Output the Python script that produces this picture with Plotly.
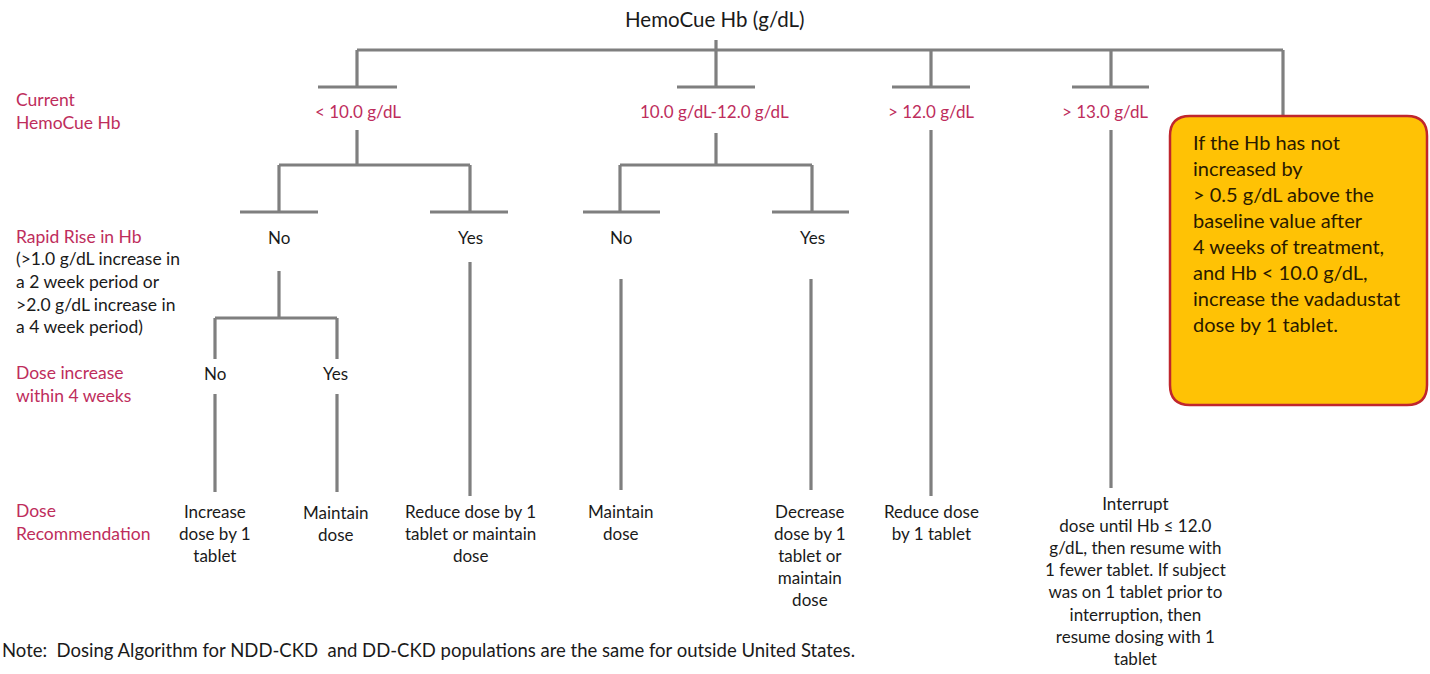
import plotly.graph_objects as go

# ---------------- data ----------------
TITLE = "HemoCue Hb (g/dL)"
TITLE_POS = (715, 20)

# tree line segments (x0, y0, x1, y1) in picture units
SEG_X0 = [716, 357, 357, 716, 931, 1111, 1283,
          318, 677, 892, 1072,
          357, 716, 279, 620,
          279, 470, 620, 812,
          240, 430, 583, 772,
          279, 215, 215, 337,
          215, 337, 470, 621, 811, 931, 1111]
SEG_Y0 = [40, 50, 50, 50, 50, 50, 50,
          87, 87, 87, 87,
          130, 133, 165, 165,
          165, 165, 165, 165,
          212, 212, 212, 212,
          271, 318, 318, 318,
          394, 394, 262, 279, 279, 130, 130]
SEG_X1 = [716, 1283, 357, 716, 931, 1111, 1283,
          397, 755, 970, 1149,
          357, 716, 470, 812,
          279, 470, 620, 812,
          318, 508, 660, 849,
          279, 337, 215, 337,
          215, 337, 470, 621, 811, 931, 1111]
SEG_Y1 = [50, 50, 87, 87, 87, 87, 116,
          87, 87, 87, 87,
          165, 165, 165, 165,
          212, 212, 212, 212,
          212, 212, 212, 212,
          318, 318, 359, 359,
          492, 492, 496, 490, 490, 496, 488]

# level 1 labels
L1_TEXT = ["< 10.0 g/dL", "10.0 g/dL-12.0 g/dL", "> 12.0 g/dL", "> 13.0 g/dL"]
L1_X = [358, 714, 931, 1105]
L1_Y = [111, 111, 111, 111]

# level 2 / 3 labels
L2_TEXT = ["No", "Yes", "No", "Yes", "No", "Yes"]
L2_X = [279, 470, 621, 812, 215, 335]
L2_Y = [237, 237, 237, 237, 373, 373]

# leaves (dose recommendations)
LEAF_TEXT = [
    "Increase<br>dose by 1<br>tablet",
    "Maintain<br>dose",
    "Reduce dose by 1<br>tablet or maintain<br>dose",
    "Maintain<br>dose",
    "Decrease<br>dose by 1<br>tablet or<br>maintain<br>dose",
    "Reduce dose<br>by 1 tablet",
    "Interrupt<br>dose until Hb \u2264 12.0<br>g/dL, then resume with<br>1 fewer tablet. If subject<br>"
    "was on 1 tablet prior to<br>interruption, then<br>resume dosing with 1<br>tablet",
]
LEAF_X = [215, 336, 470, 621, 810, 931, 1135]
LEAF_Y = [511, 512, 511, 511, 511, 511, 503]

# row headings on the left
ROW_TEXT = ["Current<br>HemoCue Hb", "Rapid Rise in Hb",
            "Dose increase<br>within 4 weeks", "Dose<br>Recommendation"]
ROW_Y = [100, 237, 373, 511]
ROW_SUB_TEXT = "(>1.0 g/dL increase in<br>a 2 week period or<br>>2.0 g/dL increase in<br>a 4 week period)"
ROW_SUB_Y = 259

NOTE_TEXT = "Note:  Dosing Algorithm for NDD-CKD  and DD-CKD populations are the same for outside United States."
NOTE_POS = (0, 650)

BOX_TEXT = ("If the Hb has not<br>increased by<br>> 0.5 g/dL above the<br>baseline value after<br>"
            "4 weeks of treatment,<br>and Hb < 10.0 g/dL,<br>increase the vadadustat<br>dose by 1 tablet.")
BOX = (1170, 116, 1427, 405)   # x0, y0, x1, y1
BOX_TEXT_POS = (1191, 142)

# ---------------- styles ----------------
FONT = "Lato"
LINE_COLOR = "#7f7f7f"
RED = "#BE2D5C"
TXT = "#1a1a1a"
FS = 17

fig = go.Figure()

xs, ys = [], []
for a, b, c, d in zip(SEG_X0, SEG_Y0, SEG_X1, SEG_Y1):
    xs += [a, c, None]
    ys += [b, d, None]
fig.add_trace(go.Scatter(x=xs, y=ys, mode="lines",
                         line=dict(color=LINE_COLOR, width=3.2),
                         hoverinfo="skip", showlegend=False))

# rounded box
x0, y0, x1, y1 = BOX
r = 20
path = (f"M {x0+r},{y0} L {x1-r},{y0} Q {x1},{y0} {x1},{y0+r} "
        f"L {x1},{y1-r} Q {x1},{y1} {x1-r},{y1} L {x0+r},{y1} "
        f"Q {x0},{y1} {x0},{y1-r} L {x0},{y0+r} Q {x0},{y0} {x0+r},{y0} Z")
fig.add_shape(type="path", path=path, xref="x", yref="y",
              fillcolor="#FFC205", line=dict(color="#C0262D", width=2.5), layer="above")

ann = []


def add_text(text, x, y, size=FS, color=TXT, xanchor="center", align="center"):
    ann.append(dict(text=text, x=x, y=y - size * 0.72, xref="x", yref="y",
                    xanchor=xanchor, yanchor="top", align=align, showarrow=False,
                    font=dict(family=FONT, size=size, color=color)))


add_text(TITLE, TITLE_POS[0], TITLE_POS[1], size=20.5)
for t, x, y in zip(L1_TEXT, L1_X, L1_Y):
    add_text(t, x, y, size=17, color=RED)
for t, x, y in zip(L2_TEXT, L2_X, L2_Y):
    add_text(t, x, y, size=FS)
for t, x, y in zip(LEAF_TEXT, LEAF_X, LEAF_Y):
    add_text(t, x, y, size=FS)
for t, y in zip(ROW_TEXT, ROW_Y):
    add_text(t, 14, y, size=17.5, color=RED, xanchor="left", align="left")
add_text(ROW_SUB_TEXT, 14, ROW_SUB_Y, size=17.5, xanchor="left", align="left")
add_text(NOTE_TEXT, NOTE_POS[0], NOTE_POS[1], size=18.5, xanchor="left", align="left")
add_text(BOX_TEXT, BOX_TEXT_POS[0], BOX_TEXT_POS[1], size=20, color="#2a1a00",
         xanchor="left", align="left")

fig.update_layout(
    annotations=ann,
    width=1430, height=674,
    margin=dict(l=0, r=0, t=0, b=0),
    plot_bgcolor="white", paper_bgcolor="white",
    xaxis=dict(range=[0, 1430], visible=False, fixedrange=True),
    yaxis=dict(range=[674, 0], visible=False, fixedrange=True),
    showlegend=False,
)

fig.write_html("out.html", post_script="document.body.style.margin='0px';",
               config={"displayModeBar": False})
